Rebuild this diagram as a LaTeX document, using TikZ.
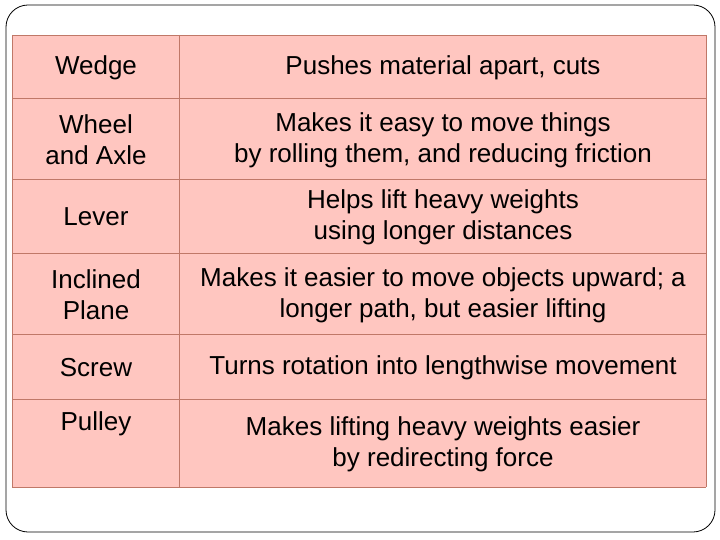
\documentclass[tikz,border=0pt]{standalone}
\usepackage{fontspec}
\setmainfont{Liberation Sans}
\definecolor{cellfill}{HTML}{FFC6C0}
\definecolor{cellline}{HTML}{C07868}
\begin{document}
\begin{tikzpicture}[x=1pt,y=-1pt,
  txt/.style={font=\fontsize{26}{31}\selectfont,align=center,inner sep=0pt}]
\useasboundingbox (0,0) rectangle (720,540);
\draw[black,line width=0.8pt,rounded corners=22pt] (6,5) rectangle (715,532);
\fill[cellfill] (12,35) rectangle (706,487);
\foreach \y in {35,98,179,253,334,399,487} \draw[cellline,line width=0.8pt] (12,\y) -- (706,\y);
\foreach \x in {12,179,706} \draw[cellline,line width=0.8pt] (\x,35) -- (\x,487);
\node[txt] (a1) at (96,68) {Wedge};
\node[txt] (b1) at (443,68) {Pushes material apart, cuts};
\node[txt] (a2) at (96,140) {Wheel\\and Axle};
\node[txt] (b2) at (443,140) {Makes it easy to move things\\by rolling them, and reducing friction};
\node[txt] (a3) at (96,217) {Lever};
\node[txt] (b3) at (443,217) {Helps lift heavy weights\\using longer distances};
\node[txt] (a4) at (96,295) {Inclined\\Plane};
\node[txt] (b4) at (443,295) {Makes it easier to move objects upward; a\\longer path, but easier lifting};
\node[txt] (a5) at (96,368) {Screw};
\node[txt] (b5) at (443,368) {Turns rotation into lengthwise movement};
\node[txt] (a6) at (96,424) {Pulley};
\node[txt] (b6) at (443,444) {Makes lifting heavy weights easier\\by redirecting force};
\end{tikzpicture}
\end{document}
